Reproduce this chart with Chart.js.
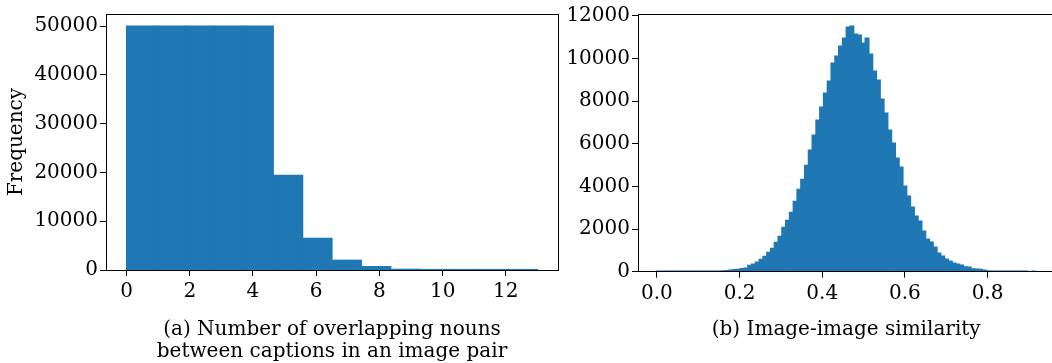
<!DOCTYPE html>
<html><head><meta charset="utf-8">
<script src="https://cdn.jsdelivr.net/npm/chart.js@4.4.0/dist/chart.umd.min.js"></script>
<style>
html,body{margin:0;padding:0;background:#fff;overflow:hidden;width:1052px;height:363px;position:relative;}
#c1{position:absolute;left:0;top:0;}
#c2{position:absolute;left:560px;top:0;}
</style></head><body>
<canvas id="c1" width="560" height="363"></canvas>
<canvas id="c2" width="500" height="363"></canvas>
<script>
// ---- (a) overlapping nouns histogram: 14 bins over [0, 13]
const nounBinStart = 0;
const nounBinWidth = 13 / 14;
const nounCounts = [50000, 50000, 50000, 50000, 50000, 19400, 6500, 2000, 700, 150, 60, 25, 10, 5];
const nounXTicks = [0, 2, 4, 6, 8, 10, 12];
const nounYTicks = [0, 10000, 20000, 30000, 40000, 50000];
const nounXRange = [-0.65, 13.65];
const nounYMax = 52500;
const nounCaption = ['(a) Number of overlapping nouns', 'between captions in an image pair'];
const nounYLabel = 'Frequency';

// ---- (b) image-image similarity histogram: 100 bins over [0, 0.916]
const simBinStart = 0;
const simBinWidth = 0.00916;
const simCounts = [
  20, 25, 15, 20, 25, 20, 15, 8, 6, 5,
  5, 6, 8, 10, 12, 18, 25, 35, 55, 70,
  100, 115, 150, 165, 297, 359, 453, 578, 719, 906,
  1094, 1375, 1656, 2078, 2406, 2781, 3297, 3859, 4328, 4984,
  5705, 6408, 7111, 7720, 8377, 8939, 9783, 10111, 10580, 10955,
  11471, 11517, 11142, 11096, 10720, 10955, 10205, 9408, 8986, 8095,
  7439, 6642, 6033, 5328, 4906, 4016, 3547, 3031, 2609, 2375,
  1906, 1531, 1391, 1156, 875, 734, 594, 500, 406, 359,
  313, 230, 210, 130, 120, 110, 78, 40, 30, 25,
  15, 10, 6, 4, 3, 2, 1, 1, 0, 1
];
const simXTicks = [0, 0.2, 0.4, 0.6, 0.8];
const simYTicks = [0, 2000, 4000, 6000, 8000, 10000, 12000];
const simXRange = [-0.0458, 0.9618];
const simYMax = 12090;
const simCaption = '(b) Image-image similarity';

const BAR = '#1f77b4';
Chart.defaults.font.family = "'DejaVu Serif', serif";
Chart.defaults.font.size = 20;
Chart.defaults.color = '#000';

const framePlugin = {
  id: 'frame',
  afterDatasetsDraw(chart) {
    const {ctx, chartArea: a} = chart;
    ctx.save();
    ctx.strokeStyle = '#000';
    ctx.lineWidth = 1;
    const l = Math.floor(a.left) + 0.5, t = Math.floor(a.top) + 0.5;
    const r = Math.floor(a.right) + 0.5, b = Math.floor(a.bottom) + 0.5;
    ctx.strokeRect(l, t, r - l, b - t);
    ctx.restore();
  }
};

function toPoints(counts, start, width) {
  return counts.map((c, i) => ({x: start + (i + 0.5) * width, y: c}));
}

function makeChart(id, cfg) {
  return new Chart(document.getElementById(id), {
    type: 'bar',
    data: {datasets: [{
      data: toPoints(cfg.counts, cfg.binStart, cfg.binWidth),
      backgroundColor: BAR, borderWidth: 0, inflateAmount: 0.6,
      barPercentage: 1.0, categoryPercentage: 1.0
    }]},
    options: {
      responsive: false, animation: false,
      layout: {padding: cfg.padding},
      plugins: {legend: {display: false}, tooltip: {enabled: false}},
      scales: {
        x: {
          type: 'linear', offset: false, min: cfg.xRange[0], max: cfg.xRange[1],
          afterBuildTicks: s => { s.ticks = cfg.xTicks.map(v => ({value: v})); },
          afterFit: s => { s.height = cfg.xHeight; },
          ticks: {padding: 4, maxRotation: 0, autoSkip: false, callback: cfg.xFmt, color: '#000'},
          grid: {display: true, offset: false, drawOnChartArea: false, drawTicks: true, tickLength: 6, color: '#000', lineWidth: 1},
          border: {display: false},
          title: {display: true, text: cfg.caption, color: '#000',
                  font: {size: 20, lineHeight: 1.1}, padding: {top: 0, bottom: cfg.capPad}}
        },
        y: {
          type: 'linear', min: 0, max: cfg.yMax,
          afterBuildTicks: s => { s.ticks = cfg.yTicks.map(v => ({value: v})); },
          afterFit: s => { s.width = cfg.yWidth; },
          ticks: {padding: 2, autoSkip: false, callback: v => String(v), color: '#000'},
          grid: {display: true, offset: false, drawOnChartArea: false, drawTicks: true, tickLength: 6, color: '#000', lineWidth: 1},
          border: {display: false},
          title: cfg.yLabel ? {display: true, text: cfg.yLabel, color: '#000', font: {size: 20}, padding: {top: 5, bottom: 0}} : {display: false}
        }
      }
    },
    plugins: [framePlugin]
  });
}

makeChart('c1', {
  counts: nounCounts, binStart: nounBinStart, binWidth: nounBinWidth,
  xRange: nounXRange, yMax: nounYMax, xTicks: nounXTicks, yTicks: nounYTicks,
  xFmt: v => String(v), caption: nounCaption, capPad: 0, yLabel: nounYLabel,
  padding: {top: 13, right: 2, left: 0, bottom: 0}, xHeight: 93, yWidth: 106
});
makeChart('c2', {
  counts: simCounts, binStart: simBinStart, binWidth: simBinWidth,
  xRange: simXRange, yMax: simYMax, xTicks: simXTicks, yTicks: simYTicks,
  xFmt: v => Number(v).toFixed(1), caption: simCaption, capPad: 22, yLabel: null,
  padding: {top: 14, right: 5.6, left: 0, bottom: 0}, xHeight: 91.3, yWidth: 78
});
</script>
</body></html>
